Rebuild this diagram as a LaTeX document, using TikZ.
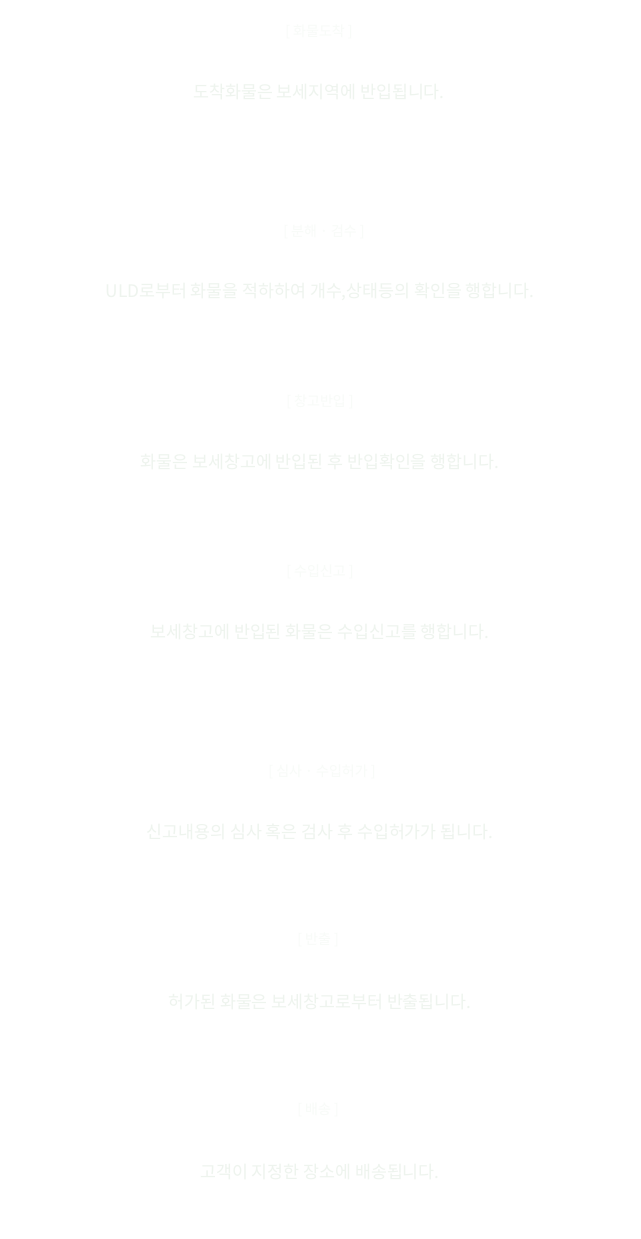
\documentclass[tikz,border=0pt]{standalone}
\usepackage{fontspec}
\newfontfamily\kr{Noto Sans CJK KR}
\definecolor{bodyc}{HTML}{EEF4EE}
\definecolor{titlec}{HTML}{F8FBF8}
\begin{document}
\begin{tikzpicture}[x=1pt,y=-1pt,
  ttl/.style={text=titlec,font=\kr\fontsize{14}{16}\selectfont,inner sep=0pt},
  bdy/.style={text=bodyc,font=\kr\fontsize{17.3}{19}\selectfont,inner sep=0pt}]
\useasboundingbox[fill=white] (0,0) rectangle (640,1239);
\node[ttl] (t1) at (319,32) {[ 화물도착 ]};
\node[bdy] (b1) at (319,92) {도착화물은 보세지역에 반입됩니다.};
\node[ttl] (t2) at (324,232) {[ 분해 · 검수 ]};
\node[bdy] (b2) at (320,292) {ULD로부터 화물을 적하하여 개수,상태등의 확인을 행합니다.};
\node[ttl] (t3) at (320,402) {[ 창고반입 ]};
\node[bdy] (b3) at (320,462) {화물은 보세창고에 반입된 후 반입확인을 행합니다.};
\node[ttl] (t4) at (320,572) {[ 수입신고 ]};
\node[bdy] (b4) at (320,632) {보세창고에 반입된 화물은 수입신고를 행합니다.};
\node[ttl] (t5) at (322,772) {[ 심사 · 수입허가 ]};
\node[bdy] (b5) at (320,832) {신고내용의 심사 혹은 검사 후 수입허가가 됩니다.};
\node[ttl] (t6) at (318,940) {[ 반출 ]};
\node[bdy] (b6) at (320,1002) {허가된 화물은 보세창고로부터 반출됩니다.};
\node[ttl] (t7) at (318,1110) {[ 배송 ]};
\node[bdy] (b7) at (320,1172) {고객이 지정한 장소에 배송됩니다.};
\end{tikzpicture}
\end{document}
